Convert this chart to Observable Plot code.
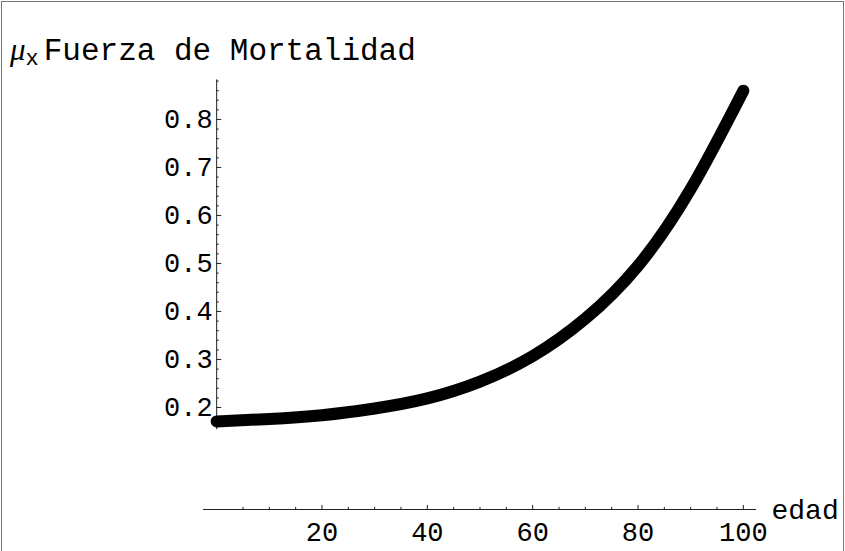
<!DOCTYPE html>
<html><head><meta charset="utf-8">
<script src="https://cdn.jsdelivr.net/npm/d3@7"></script>
<script src="https://cdn.jsdelivr.net/npm/@observablehq/plot@0.6"></script>
<style>
body{margin:0;background:#fff}
#wrap{position:relative;width:845px;height:551px;overflow:hidden;background:#fff}
#title{height:36px;padding-top:34px;padding-left:10px;line-height:31px;font-family:"Liberation Mono","Courier New",monospace;font-size:31px;white-space:pre;color:#000}
#title .mu{font-family:"Liberation Serif","DejaVu Serif",serif;font-style:italic;font-size:31px}
#title sub{font-size:22px;vertical-align:-5px;line-height:0;margin-right:5px}
#frame{position:absolute;left:1px;top:1px;width:841px;height:600px;border:1px solid #777;border-bottom:none;pointer-events:none}
#chart svg{display:block}
</style></head>
<body>
<div id="wrap">
<div id="frame"></div>
<div id="title"><span class="mu">μ</span><sub>x</sub>Fuerza de Mortalidad</div>
<div id="chart"></div>
</div>
<script>
// ages and force of mortality
const ages = [0, 10, 20, 30, 40, 50, 60, 70, 80, 90, 100];
const mu   = [0.171, 0.176, 0.184, 0.198, 0.219, 0.254, 0.307, 0.385, 0.495, 0.655, 0.860];

const xMajor = [20, 40, 60, 80, 100];
const xMinor = [5, 10, 15, 25, 30, 35, 45, 50, 55, 65, 70, 75, 85, 90, 95];
const yMajor = [0.2, 0.3, 0.4, 0.5, 0.6, 0.7, 0.8];
const yMinor = [0.16, 0.18, 0.22, 0.24, 0.26, 0.28, 0.32, 0.34, 0.36, 0.38, 0.42, 0.44, 0.46, 0.48,
                0.52, 0.54, 0.56, 0.58, 0.62, 0.64, 0.66, 0.68, 0.72, 0.74, 0.76, 0.78, 0.82, 0.84, 0.86, 0.88];
const yLabels = ["0.2", "0.3", "0.4", "0.5", "0.6", "0.7", "0.8"];
const xLabels = ["20", "40", "60", "80", "100"];

const xRange = [-2.5, 102.5];        // x axis extent
const yAxisRange = [0.1536, 0.8824]; // y axis extent
const xAxisAt = -0.0125;             // y value where the x axis is drawn

const data = ages.map((a, i) => ({age: a, mu: mu[i]}));
const font = `"Liberation Mono","Courier New",monospace`;

const chart = Plot.plot({
  width: 845,
  height: 481,
  marginTop: 0, marginRight: 0, marginBottom: 0, marginLeft: 0,
  style: {fontFamily: font, background: "white", color: "black", overflow: "visible"},
  x: {domain: xRange, range: [203, 756], axis: null},
  y: {domain: [xAxisAt, yAxisRange[1]], range: [439, 9.4], axis: null},
  marks: [
    // y axis
    Plot.ruleX([0], {y1: yAxisRange[0], y2: yAxisRange[1], stroke: "#222", strokeWidth: 1}),
    Plot.ruleY(yMajor, {y: d => d, x1: 0, x2: 0.95, stroke: "#222"}),
    Plot.ruleY(yMinor, {y: d => d, x1: 0, x2: 0.48, stroke: "#222"}),
    Plot.text(yMajor, {x: 0, y: d => d, text: (d, i) => yLabels[i], textAnchor: "end", dx: -4, fontSize: 27, lineAnchor: "middle"}),
    // x axis
    Plot.ruleY([xAxisAt], {x1: xRange[0], x2: xRange[1], stroke: "#222", strokeWidth: 1}),
    Plot.ruleX(xMajor, {x: d => d, y1: xAxisAt, y2: xAxisAt + 0.0085, stroke: "#222"}),
    Plot.ruleX(xMinor, {x: d => d, y1: xAxisAt, y2: xAxisAt + 0.0045, stroke: "#222"}),
    Plot.text(xMajor, {x: d => d, y: xAxisAt, text: (d, i) => xLabels[i], dy: 23, fontSize: 27, lineAnchor: "middle"}),
    Plot.text(["edad"], {x: xRange[1], y: xAxisAt, text: d => d, textAnchor: "start", dx: 15, dy: 1, fontSize: 28, lineAnchor: "middle"}),
    // curve
    Plot.line(data, {x: "age", y: "mu", curve: "natural", stroke: "black", strokeWidth: 12, strokeLinecap: "round", strokeLinejoin: "round"})
  ]
});
document.getElementById("chart").append(chart);
</script>
</body></html>
